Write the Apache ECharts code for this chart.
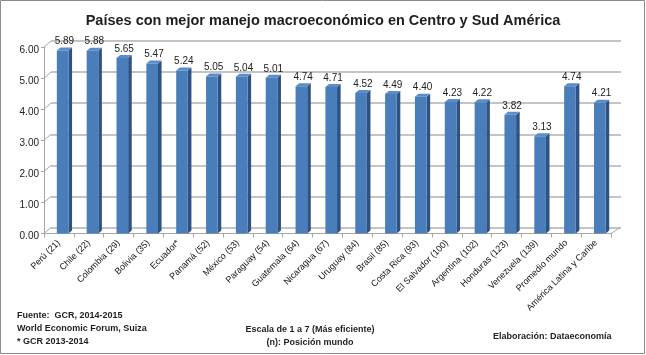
<!DOCTYPE html>
<html>
<head>
<meta charset="utf-8">
<script src="https://cdn.jsdelivr.net/npm/echarts@6/dist/echarts.min.js"></script>
<style>
html,body{margin:0;padding:0;background:#fff;}
#chart{width:646px;height:355px;}
</style>
</head>
<body>
<div id="chart"></div>
<script>
var categories = ["Perú (21)","Chile (22)","Colombia (29)","Bolivia (35)","Ecuador*","Panamá (52)","México (53)","Paraguay (54)","Guatemala (64)","Nicaragua (67)","Uruguay (84)","Brasil (85)","Costa Rica (93)","El Salvador (100)","Argentina (102)","Honduras (123)","Venezuela (139)","Promedio mundo","América Latina y Caribe"];
var values = [5.89,5.88,5.65,5.47,5.24,5.05,5.04,5.01,4.74,4.71,4.52,4.49,4.40,4.23,4.22,3.82,3.13,4.74,4.21];
var yTicks = [0,1,2,3,4,5,6];

var FONT = "'Liberation Sans', Arial, sans-serif";
var chart = echarts.init(document.getElementById('chart'), null, {renderer:'canvas'});

var barData = values.map(function(v,i){ return [i, v]; });
var frameData = yTicks.map(function(v){ return [0, v]; });

function renderBar(params, api){
  var idx = api.value(0), v = api.value(1);
  var top = api.coord([idx, v]);
  var base = api.coord([idx, 0]);
  var bw = api.size([1,0])[0];
  var c = top[0];
  var fl = c - 0.07*bw, fr = c + 0.32*bw;
  var d = 0.12*bw, dy = 3;
  return {
    type:'group',
    children:[
      {type:'polygon', shape:{points:[[fr,top[1]],[fr+d,top[1]-dy],[fr+d,base[1]-dy],[fr,base[1]]]}, style:{fill:'#2E5283'}},
      {type:'polygon', shape:{points:[[fl,top[1]],[fr,top[1]],[fr+d,top[1]-dy],[fl+d,top[1]-dy]]}, style:{fill:'#5B8DCB'}},
      {type:'rect', shape:{x:fl, y:top[1], width:fr-fl, height:base[1]-top[1]}, style:{fill:'#4A7EBB'}},
      {type:'text', style:{x:(fl+fr+d)/2, y:top[1]-dy-1, text:api.value(1).toFixed(2), fill:'#222', font:'10px '+FONT, align:'center', verticalAlign:'bottom'}}
    ]
  };
}

function renderFrame(params, api){
  var v = api.value(1);
  var p = api.coord([0, v]);
  var bw = api.size([1,0])[0];
  var left = p[0] - bw/2;
  var children = [
    {type:'line', shape:{x1:left, y1:p[1], x2:left+7, y2:p[1]-6}, style:{stroke:'#a6a6a6', lineWidth:1}}
  ];
  if (v === 0) {
    var pr = api.coord([categories.length-1, 0]);
    var right = pr[0] + bw/2;
    children.push({type:'line', shape:{x1:right, y1:pr[1], x2:right+9, y2:pr[1]-6}, style:{stroke:'#a6a6a6', lineWidth:1}});
  }
  return {type:'group', children:children};
}

var option = {
  animation:false,
  backgroundColor:'#fff',
  title:{
    text:'Países con mejor manejo macroeconómico en Centro y Sud América',
    left:'center', top:8,
    textStyle:{fontFamily:FONT, fontSize:14.5, fontWeight:'bold', color:'#1f1f1f'}
  },
  grid:[
    {left:44, right:35, top:47, bottom:121.5},
    {left:51, right:25, top:41, bottom:127.5}
  ],
  xAxis:[
    {type:'category', gridIndex:0, data:categories,
     axisLine:{show:true, lineStyle:{color:'#a6a6a6'}},
     axisTick:{show:true, alignWithLabel:false, length:4, lineStyle:{color:'#a6a6a6'}},
     axisLabel:{rotate:45, interval:0, margin:8, fontFamily:FONT, fontSize:9, color:'#111'}},
    {type:'value', gridIndex:1, min:0, max:1, show:false}
  ],
  yAxis:[
    {type:'value', gridIndex:0, min:0, max:6, interval:1,
     axisLine:{show:true, lineStyle:{color:'#a6a6a6'}},
     axisTick:{show:true, length:3, lineStyle:{color:'#a6a6a6'}},
     splitLine:{show:false},
     axisLabel:{margin:5, verticalAlign:'top', lineHeight:6, fontFamily:FONT, fontSize:10, color:'#222', formatter:function(v){return v.toFixed(2);}}},
    {type:'value', gridIndex:1, min:0, max:6, interval:1,
     axisLine:{show:false}, axisTick:{show:false}, axisLabel:{show:false},
     splitLine:{show:true, lineStyle:{color:'#b0b0b0', width:1.5}}}
  ],
  series:[
    {type:'custom', xAxisIndex:0, yAxisIndex:0, data:frameData, renderItem:renderFrame, clip:false, z:1, silent:true},
    {type:'custom', xAxisIndex:0, yAxisIndex:0, data:barData, renderItem:renderBar, clip:false, z:3, silent:true}
  ],
  graphic:[
    {type:'rect', shape:{x:0.5, y:0.5, width:644, height:353}, style:{fill:null, stroke:'#8c8c8c', lineWidth:1}, z:-1},
    {type:'text', left:17, top:311, style:{text:'Fuente:  GCR, 2014-2015', font:'bold 9px '+FONT, fill:'#1f1f1f'}},
    {type:'text', left:17, top:324, style:{text:'World Economic Forum, Suiza', font:'bold 9px '+FONT, fill:'#1f1f1f'}},
    {type:'text', left:17, top:337, style:{text:'* GCR 2013-2014', font:'bold 9px '+FONT, fill:'#1f1f1f'}},
    {type:'text', x:310, y:325, style:{text:'Escala de 1 a 7 (Más eficiente)', font:'bold 9px '+FONT, fill:'#1f1f1f', align:'center'}},
    {type:'text', x:310, y:338, style:{text:'(n): Posición mundo', font:'bold 9px '+FONT, fill:'#1f1f1f', align:'center'}},
    {type:'text', left:493, top:332, style:{text:'Elaboración: Dataeconomía', font:'bold 9px '+FONT, fill:'#1f1f1f'}}
  ]
};
chart.setOption(option);
</script>
</body>
</html>
